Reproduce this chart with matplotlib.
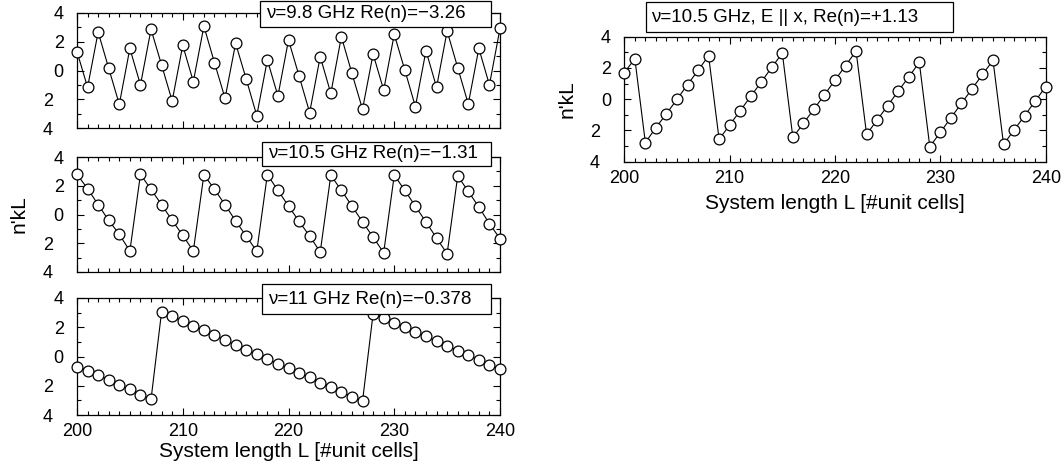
import matplotlib
matplotlib.use('Agg')
import matplotlib.pyplot as plt
from matplotlib.patches import Rectangle
from matplotlib.transforms import ScaledTranslation
from matplotlib.ticker import MultipleLocator, FixedLocator, FixedFormatter

plt.rcParams['font.family'] = ['Liberation Sans', 'DejaVu Sans']

L = list(range(200, 241))

# nu = 9.8 GHz
y_98 = [1.30, -1.16, 2.66, 0.15, -2.34, 1.53, -1.00, 2.85, 0.38, -2.11,
        1.74, -0.77, 3.07, 0.54, -1.92, 1.88, -0.59, -3.12, 0.73, -1.76,
        2.11, -0.38, -2.91, 0.96, -1.58, 2.34, -0.20, -2.68, 1.14, -1.35,
        2.50, 0.03, -2.50, 1.37, -1.16, 2.73, 0.20, -2.32, 1.53, -1.00, 2.91]

# nu = 10.5 GHz, negative index
y_105 = [2.79, 1.80, 0.68, -0.41, -1.38, -2.54, 2.79, 1.75, 0.68, -0.41,
         -1.45, -2.54, 2.77, 1.75, 0.68, -0.45, -1.50, -2.56, 2.77, 1.68,
         0.59, -0.48, -1.50, -2.61, 2.73, 1.68, 0.59, -0.52, -1.57, -2.66,
         2.73, 1.68, 0.57, -0.52, -1.64, -2.73, 2.68, 1.61, 0.52, -0.64, -1.68]

# nu = 11 GHz
y_11 = [-0.69, -0.96, -1.28, -1.60, -1.92, -2.24, -2.61, -2.93, 3.06, 2.74,
        2.42, 2.10, 1.78, 1.46, 1.10, 0.78, 0.46, 0.14, -0.18, -0.50,
        -0.82, -1.14, -1.42, -1.78, -2.06, -2.42, -2.74, -3.06, 2.93, 2.63,
        2.29, 2.01, 1.69, 1.37, 1.05, 0.73, 0.41, 0.09, -0.23, -0.55, -0.87]

# nu = 10.5 GHz, E || x
y_ex = [1.70, 2.59, -2.78, -1.82, -0.93, -0.01, 0.93, 1.84, 2.78, -2.57,
        -1.65, -0.74, 0.18, 1.10, 2.04, 2.95, -2.45, -1.55, -0.63, 0.28,
        1.22, 2.15, 3.08, -2.25, -1.33, -0.42, 0.52, 1.42, 2.36, -3.04,
        -2.12, -1.19, -0.27, 0.65, 1.59, 2.48, -2.89, -1.97, -1.06, -0.12, 0.80]

labels_left = ['\u03bd=9.8 GHz Re(n)=\u22123.26',
               '\u03bd=10.5 GHz Re(n)=\u22121.31',
               '\u03bd=11 GHz Re(n)=\u22120.378']
label_right = '\u03bd=10.5 GHz, E || x, Re(n)=+1.13'
ytick_vals = [4, 2, 0, -2, -4]
ytick_labels = ['4', '2', '0', '2', '4']
xtick_vals = [200, 210, 220, 230, 240]

W, H = 1064, 471
fig = plt.figure(figsize=(W / 100, H / 100), dpi=100)


def px_axes(left, top, right, bottom):
    return fig.add_axes([left / W, 1 - bottom / H, (right - left) / W, (bottom - top) / H])


def px_label(text, x0, y0, x1, y1, tx):
    # framed label, given in pixel coordinates from the top-left corner
    fig.add_artist(Rectangle((x0 / W, 1 - y1 / H), (x1 - x0) / W, (y1 - y0) / H,
                             transform=fig.transFigure, fc='white', ec='black',
                             lw=0.9, zorder=5))
    fig.text(tx / W, 1 - (y0 + y1) / 2 / H, text, ha='left', va='center',
             fontsize=13.5, zorder=6)


def style(ax, show_x):
    ax.set_xlim(200, 240)
    ax.set_ylim(-4, 4)
    ax.yaxis.set_major_locator(FixedLocator(ytick_vals))
    ax.yaxis.set_major_formatter(FixedFormatter(ytick_labels))
    ax.yaxis.set_minor_locator(MultipleLocator(1))
    ax.xaxis.set_major_locator(FixedLocator(xtick_vals))
    ax.xaxis.set_minor_locator(MultipleLocator(1))
    ax.tick_params(which='both', direction='in', top=True, right=True,
                   labelsize=13, width=0.8)
    ax.tick_params(axis='y', pad=9.5)
    ax.tick_params(axis='x', pad=6)
    ax.tick_params(which='major', length=5)
    ax.tick_params(which='minor', length=3)
    if not show_x:
        ax.tick_params(labelbottom=False)
    for s in ax.spines.values():
        s.set_linewidth(0.9)
    # negative labels keep the room of their (missing) minus sign
    shift = ScaledTranslation(-8 / 72, 0, fig.dpi_scale_trans)
    for v, tick in zip(ytick_vals, ax.yaxis.get_major_ticks(len(ytick_vals))):
        if v < 0:
            tick.label1.set_transform(tick.label1.get_transform() + shift)


def draw(ax, y):
    ax.plot(L, y, '-', color='black', lw=0.8, marker='o', ms=7.8,
            mfc='white', mec='black', mew=0.9, clip_on=False, zorder=3)


panels = [(77, 12.7, 500, 128.3), (77, 157, 500, 272), (77, 298, 500, 415)]
label_boxes = [(260, 0.5, 491, 26.5), (262, 142, 491, 166), (262, 284, 491, 314)]
series = [y_98, y_105, y_11]

for i, (b, y) in enumerate(zip(panels, series)):
    ax = px_axes(*b)
    draw(ax, y)
    style(ax, show_x=(i == 2))
    if i == 1:
        ax.set_ylabel("n'kL", fontsize=15, labelpad=10)
    if i == 2:
        ax.set_xlabel('System length L [#unit cells]', fontsize=15, labelpad=1)
    x0, y0, x1, y1 = label_boxes[i]
    px_label(labels_left[i], x0, y0, x1, y1, x0 + 6)

axr = px_axes(624.3, 36.7, 1045.7, 161.7)
draw(axr, y_ex)
style(axr, show_x=True)
axr.set_ylabel("n'kL", fontsize=15, labelpad=10)
axr.set_xlabel('System length L [#unit cells]', fontsize=15, labelpad=5)
px_label(label_right, 646, 2, 953, 32, 651)

fig.savefig('out.png', dpi=100)
